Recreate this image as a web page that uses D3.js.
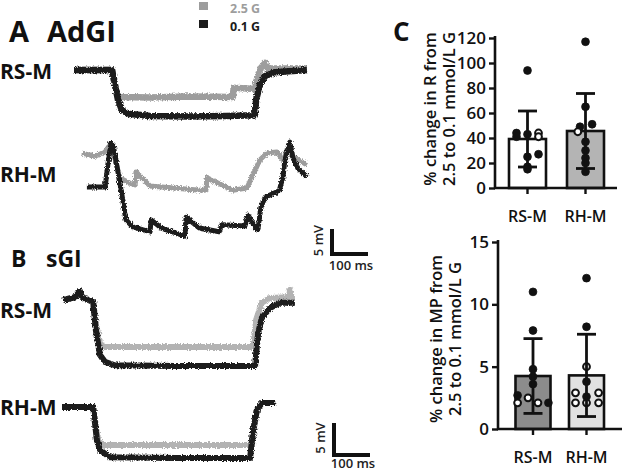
<!DOCTYPE html>
<html><head><meta charset="utf-8">
<script src="https://cdn.jsdelivr.net/npm/d3@7"></script>
<style>body{margin:0;background:#fff} svg{display:block;font-family:"Open Sans",sans-serif}</style>
</head><body>
<svg id="c" width="623" height="471"></svg>
<script>
// ================= DATA =================
const groups = ["RS-M", "RH-M"];
const conditions = ["2.5 G", "0.1 G"];

// Traces: [time ms, membrane potential mV relative to start]
// A AdGI, RS-M
const adgiRsm25 = [[0,0],[100,0],[105,-2],[112,-4.2],[120,-5.0],[200,-5.1],[300,-4.9],[418,-5.0],[420,-3.3],[476,-3.5],[480,-2],[492,0.4],[503,1.3],[510,0.3],[613,0.3]];
const adgiRsm01 = [[0,0],[100,0],[108,-2.8],[116,-5.6],[126,-7.4],[142,-8.1],[200,-8.5],[300,-8.6],[400,-8.5],[476,-8.4],[479,-5.6],[489,-2.8],[503,-1.1],[529,-0.4],[613,0]];
// A AdGI, RH-M
const adgiRhm25 = [[21,6.3],[55,5.7],[82,6.5],[97,8.1],[105,5.9],[121,1.7],[147,0.7],[161,0.4],[163,2.8],[200,0.2],[332,-0.6],[347,-0.6],[350,1.7],[418,-0.6],[455,-0.2],[489,5.0],[508,6.3],[534,6.5],[550,5.0],[568,8.3],[576,5.6],[613,4.1]];
const adgiRhm01 = [[34,0],[82,0],[89,4.1],[97,8.1],[103,7.8],[121,0.7],[137,-6.1],[155,-7.4],[200,-8.3],[203,-6.1],[230,-7.6],[292,-9.1],[295,-5.6],[330,-7.6],[382,-8.3],[389,-7.0],[450,-7.2],[458,-5.2],[478,-7.6],[484,-7.8],[492,-3.7],[503,-1.9],[540,-0.7],[550,1.9],[555,5.0],[568,8.3],[576,5.4],[589,3.5],[613,1.9]];
// B sGI, RS-M
const sgiRsm25 = [[3,0],[34,0.4],[47,1.3],[53,0.4],[82,-0.3],[89,-3.5],[100,-6.3],[108,-6.9],[300,-6.9],[503,-6.9],[511,-2.9],[526,-0.4],[547,0.3],[597,0.4],[600,1.5],[605,0.3],[613,0.3]];
const sgiRsm01 = [[3,0],[34,0.4],[47,1.3],[53,0.4],[82,-0.3],[89,-4.4],[100,-8.1],[113,-9.1],[139,-9.6],[300,-9.7],[508,-9.7],[516,-4.9],[526,-2.6],[547,-1.2],[574,-0.4],[613,-0.4]];
// B sGI, RH-M
const sgiRhm25 = [[0,0],[82,0],[92,-4.0],[100,-5.3],[108,-5.6],[300,-5.6],[500,-5.6],[506,-3.0],[513,-0.4],[526,0.6],[561,0.6]];
const sgiRhm01 = [[0,0],[82,0],[92,-4.9],[100,-6.3],[126,-7.4],[300,-7.5],[495,-7.5],[503,-3.4],[513,-0.4],[526,0.6],[561,0.6]];

// Panel C: % change in R from 2.5 to 0.1 mmol/L G
const rMean = [39.2, 45.6];
const rSD = [22.4, 30.0];
const rRsmValues = [94, 44, 44, 43, 41, 41, 27, 25, 17, 15];
const rRsmOpen   = [0, 0, 1, 0, 0, 1, 0, 0, 0, 0];
const rRsmJitter = [0, -1, 1, 0, -1, 1, 1, 0, 0, 0];
const rRhmValues = [117, 65, 51, 49, 45, 37, 30, 24, 20, 13];
const rRhmOpen   = [0, 0, 0, 0, 1, 0, 0, 0, 0, 0];
const rRhmJitter = [0, 0, 0.6, -0.5, -0.7, 0, 0, 0, 0, 0];
const rTicks = [0, 20, 40, 60, 80, 100, 120];

// Panel C: % change in MP from 2.5 to 0.1 mmol/L G
const mpMean = [4.25, 4.3];
const mpSD = [3.0, 3.3];
const mpRsmValues = [11.0, 7.9, 4.8, 4.2, 3.6, 2.7, 2.5, 2.1, 2.1, 2.1];
const mpRsmOpen   = [0, 0, 0, 0, 0, 0, 1, 1, 1, 0];
const mpRsmJitter = [0, 0, 0, 0, 0, -1.4, -0.45, -1.4, 0.45, 1.4];
const mpRhmValues = [12.1, 8.2, 5.0, 3.8, 2.9, 2.9, 2.6, 2.1, 2.1, 2.1];
const mpRhmOpen   = [0, 0, 1, 0, 1, 1, 0, 1, 1, 1];
const mpRhmJitter = [0, 0, 0, 0, -1, 1.1, 0, -1, 0, 1.1];
const mpTicks = [0, 5, 10, 15];

// ================= DRAW =================
const svg = d3.select("#c");
const FONT = '"Open Sans", sans-serif';
const GRAY_A = "#9d9d9d", GRAY_B = "#b3b3b3", BLACK = "#1b1b1b";

// recording-noise texture (deterministic SVG filter)
const defs = svg.append("defs");
const f = defs.append("filter").attr("id", "noise").attr("x", "-5%").attr("y", "-30%").attr("width", "110%").attr("height", "160%");
f.append("feTurbulence").attr("type", "fractalNoise").attr("baseFrequency", "1.2 0.6").attr("numOctaves", 2).attr("seed", 3).attr("result", "t");
f.append("feDisplacementMap").attr("in", "SourceGraphic").attr("in2", "t").attr("scale", 4).attr("xChannelSelector", "R").attr("yChannelSelector", "G");

// ---- Legend ----
const legColors = [GRAY_A, BLACK];
conditions.forEach((c, i) => {
  const y0 = i === 0 ? 2 : 20;
  svg.append("rect").attr("x", 199).attr("y", y0).attr("width", 9).attr("height", 8).attr("fill", legColors[i]);
  svg.append("text").attr("x", 230).attr("y", y0 + 11).attr("font-size", 12.5).attr("font-weight", 700)
    .attr("fill", legColors[i]).text(c);
});

// ---- panel labels ----
function label(x, y, size, txt, weight = 700) {
  return svg.append("text").attr("x", x).attr("y", y).attr("font-size", size).attr("font-weight", weight).attr("fill", "#111").text(txt);
}
label(9, 42, 29, "A");
label(47, 42, 29, "AdGI");
label(11, 267, 23, "B");
label(46, 267, 23, "sGI");
label(393, 41, 26, "C");
label(0, 79, 21, groups[0]);
label(0, 182, 21, groups[1]);
label(0, 318, 21, groups[0]);
label(0, 415, 21, groups[1]);

// ---- traces ----
const xA = d3.scaleLinear().domain([0, 100]).range([74, 112]);
const xB = d3.scaleLinear().domain([0, 100]).range([62, 100]);
const rows = [
  {x: xA, y: d3.scaleLinear().domain([0, -5]).range([70, 97]), g: adgiRsm25, b: adgiRsm01, gray: GRAY_A, w: 6.5},
  {x: xA, y: d3.scaleLinear().domain([0, -5]).range([187, 214]), g: adgiRhm25, b: adgiRhm01, gray: GRAY_A, w: 5},
  {x: xB, y: d3.scaleLinear().domain([0, -5]).range([300, 334]), g: sgiRsm25, b: sgiRsm01, gray: GRAY_B, w: 6},
  {x: xB, y: d3.scaleLinear().domain([0, -5]).range([407, 441]), g: sgiRhm25, b: sgiRhm01, gray: GRAY_B, w: 6}
];
rows.forEach(r => {
  const line = d3.line().x(d => r.x(d[0])).y(d => r.y(d[1]));
  const g = svg.append("g").attr("filter", "url(#noise)");
  g.append("path").attr("d", line(r.g)).attr("fill", "none").attr("stroke", r.gray).attr("stroke-width", r.w).attr("stroke-linejoin", "round");
  g.append("path").attr("d", line(r.b)).attr("fill", "none").attr("stroke", BLACK).attr("stroke-width", r.w).attr("stroke-linejoin", "round");
});

// ---- scale bars ----
function scaleBar(xs, ys, cx, cy, ms, mv, labelY) {
  const x0 = cx, x1 = cx + (xs(ms) - xs(0));
  const h = Math.abs(ys(-mv) - ys(0));
  svg.append("line").attr("x1", x0 + 2).attr("x2", x0 + 2).attr("y1", cy - h).attr("y2", cy).attr("stroke", "#111").attr("stroke-width", 4);
  svg.append("line").attr("x1", x0).attr("x2", x1).attr("y1", cy - 2).attr("y2", cy - 2).attr("stroke", "#111").attr("stroke-width", 4);
  svg.append("text").attr("transform", `translate(${x0 - 7},${cy - h / 2 - 2}) rotate(-90)`).attr("text-anchor", "middle")
    .attr("font-size", 13).attr("font-weight", 600).attr("fill", "#222").text(mv + " mV");
  svg.append("text").attr("x", (x0 + x1) / 2 + 2).attr("y", labelY).attr("text-anchor", "middle")
    .attr("font-size", 13).attr("font-weight", 600).attr("fill", "#222").text(ms + " ms");
}
scaleBar(xA, rows[0].y, 330, 256, 100, 5, 270);
scaleBar(xB, rows[2].y, 332, 457, 100, 5, 468);

// ---- bar charts ----
function barChart(opt) {
  const {axisX, xEnd, y, fills, mean, sd, vals, open, jit, ticks, centers, barW, tickFont} = opt;
  const g = svg.append("g");
  const x = d3.scalePoint().domain(groups).range(centers);
  groups.forEach((grp, i) => {
    g.append("rect").attr("x", x(grp) - barW / 2).attr("y", y(mean[i])).attr("width", barW).attr("height", y(0) - y(mean[i]))
      .attr("fill", fills[i]).attr("stroke", "#111").attr("stroke-width", 2.6);
  });
  const yAxis = d3.axisLeft(y).tickValues(ticks).tickSize(6).tickPadding(3);
  const ya = g.append("g").attr("transform", `translate(${axisX},0)`).call(yAxis);
  ya.select(".domain").attr("stroke", "#111").attr("stroke-width", 2.6).attr("d", `M0,${y(ticks[ticks.length-1]) - 2}V${y(0)}`);
  ya.selectAll(".tick line").attr("stroke", "#111").attr("stroke-width", 2.4);
  ya.selectAll("text").attr("font-size", tickFont).attr("font-weight", 600).attr("font-family", FONT).attr("fill", "#111");
  g.append("line").attr("x1", axisX - 1).attr("x2", xEnd).attr("y1", y(0)).attr("y2", y(0)).attr("stroke", "#111").attr("stroke-width", 2.6);
  groups.forEach(grp => {
    g.append("line").attr("x1", x(grp)).attr("x2", x(grp)).attr("y1", y(0)).attr("y2", y(0) + 6).attr("stroke", "#111").attr("stroke-width", 2.4);
    g.append("text").attr("x", x(grp)).attr("y", opt.catY).attr("text-anchor", "middle").attr("font-size", 16).attr("font-weight", 600).attr("fill", "#111").text(grp);
  });
  groups.forEach((grp, i) => {
    vals[i].forEach((v, k) => {
      g.append("circle").attr("cx", x(grp) + jit[i][k] * 11).attr("cy", y(v)).attr("r", open[i][k] ? 3.4 : 3.9)
        .attr("fill", open[i][k] ? "#fff" : "#111").attr("stroke", "#111").attr("stroke-width", open[i][k] ? 2 : 0.8);
    });
  });
  groups.forEach((grp, i) => {
    const hi = mean[i] + sd[i], lo = mean[i] - sd[i], cx = x(grp);
    g.append("line").attr("x1", cx).attr("x2", cx).attr("y1", y(hi)).attr("y2", y(lo)).attr("stroke", "#111").attr("stroke-width", 2.8);
    [hi, lo].forEach(v => g.append("line").attr("x1", cx - 9.5).attr("x2", cx + 9.5).attr("y1", y(v)).attr("y2", y(v)).attr("stroke", "#111").attr("stroke-width", 2.8));
  });
  const t = g.append("text").attr("transform", `translate(${opt.titleX},${opt.titleY}) rotate(-90)`).attr("text-anchor", "middle")
    .attr("font-size", 16.5).attr("font-weight", 600).attr("fill", "#111");
  t.append("tspan").attr("x", 0).attr("y", 0).text(opt.title[0]);
  t.append("tspan").attr("x", 0).attr("y", 18.5).text(opt.title[1]);
}

barChart({
  axisX: 495, xEnd: 617, y: d3.scaleLinear().domain([0, 120]).range([188, 38]),
  fills: ["#ffffff", "#b4b4b4"], mean: rMean, sd: rSD,
  vals: [rRsmValues, rRhmValues], open: [rRsmOpen, rRhmOpen], jit: [rRsmJitter, rRhmJitter],
  ticks: rTicks, centers: [527.5, 585.5], barW: 37, tickFont: 17, catY: 222,
  title: ["% change in R from", "2.5 to 0.1 mmol/L G"], titleX: 436, titleY: 109
});
barChart({
  axisX: 498, xEnd: 622, y: d3.scaleLinear().domain([0, 15]).range([429, 242]),
  fills: ["#8c8c8c", "#e1e1e1"], mean: mpMean, sd: mpSD,
  vals: [mpRsmValues, mpRhmValues], open: [mpRsmOpen, mpRhmOpen], jit: [mpRsmJitter, mpRhmJitter],
  ticks: mpTicks, centers: [533, 586.5], barW: 35, tickFont: 17, catY: 463,
  title: ["% change in MP from", "2.5 to 0.1 mmol/L G"], titleX: 442, titleY: 339
});
</script>
</body></html>
